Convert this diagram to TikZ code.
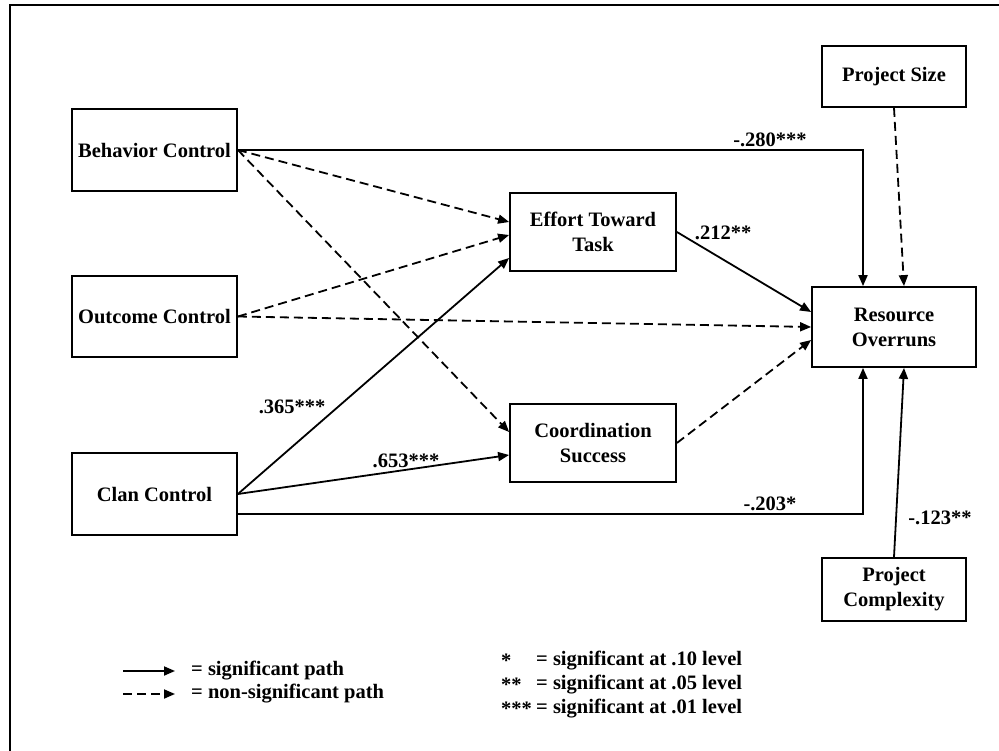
\documentclass[tikz,border=0pt]{standalone}
\usepackage{fontspec}
\setmainfont{Liberation Serif}
\usetikzlibrary{arrows.meta}
\begin{document}
\begin{tikzpicture}[x=1pt,y=-1pt,
  txt/.style={font=\bfseries\fontsize{20.5}{25}\selectfont},
  box/.style={txt, draw, line width=1.8pt, rectangle, align=center, inner sep=0pt},
  sig/.style={line width=1.8pt, -{Triangle[length=11pt,width=9pt]}},
  nsig/.style={sig, dash pattern=on 9pt off 5pt},
  lbl/.style={txt, inner sep=1pt}]
\useasboundingbox (0,0) rectangle (999,751);
\draw[line width=2pt] (9.5,751) -- (9.5,5) -- (999,5);

% boxes
\node[box, minimum width=165pt, minimum height=82pt] (BC) at (154.5,150) {Behavior Control};
\node[box, minimum width=165pt, minimum height=81pt] (OC) at (154.5,316.5) {Outcome Control};
\node[box, minimum width=165pt, minimum height=82pt] (CC) at (154.5,494) {Clan Control};
\node[box, minimum width=166pt, minimum height=78pt] (ET) at (593,232) {Effort Toward\\Task};
\node[box, minimum width=166pt, minimum height=78pt] (CS) at (593,443) {Coordination\\Success};
\node[box, minimum width=164pt, minimum height=80pt] (RO) at (894,327) {Resource\\Overruns};
\node[box, minimum width=144pt, minimum height=61pt] (PS) at (894,76.5) {Project Size};
\node[box, minimum width=144pt, minimum height=63pt] (PC) at (894,589.5) {Project\\Complexity};

% connectors
\draw[sig] (BC.east) -| ([xshift=-31pt]RO.north);
\draw[sig] ([yshift=-20pt]CC.east) -| ([xshift=-31pt]RO.south);
\draw[nsig] (BC.east) -- ([yshift=10pt]ET.west);
\draw[nsig] (BC.east) -- ([yshift=11pt]CS.west);
\draw[nsig] (OC.east) -- ([yshift=-3pt]ET.west);
\draw[nsig] (OC.east) -- (RO.west);
\draw[sig] (CC.east) -- ([yshift=-26pt]ET.west) node[lbl, pos=0.33, anchor=south east] (l365) {.365***};
\draw[sig] (CC.east) -- ([yshift=-12pt]CS.west) node[lbl, pos=0.62, anchor=south] (l653) {.653***};
\draw[sig] (ET.east) -- ([yshift=15pt]RO.west) node[lbl, pos=0.12, anchor=south west] (l212) {.212**};
\draw[nsig] (CS.east) -- ([yshift=-13pt]RO.west);
\draw[nsig] (PS.south) -- ([xshift=10pt]RO.north);
\draw[sig] (PC.north) -- ([xshift=10pt]RO.south);

\node[lbl, anchor=south] (l280) at (770,148) {-.280***};
\node[lbl, anchor=south] (l203) at (770,512) {-.203*};
\node[lbl] (l123) at (940,518) {-.123**};

% legend
\coordinate (a1) at (123,671); \coordinate (b1) at (175,671);
\coordinate (a2) at (123,694); \coordinate (b2) at (175,694);
\draw[sig] (a1) -- (b1);
\draw[nsig] (a2) -- (b2);
\node[lbl, anchor=west] (t1) at (190,671) {= significant path};
\node[lbl, anchor=west] (t2) at (190,694) {= non-significant path};
\node[lbl, anchor=west] (s1) at (500,661) {*};
\node[lbl, anchor=west] (s2) at (500,685) {**};
\node[lbl, anchor=west] (s3) at (500,709) {***};
\node[lbl, anchor=west] (u1) at (535,661) {= significant at .10 level};
\node[lbl, anchor=west] (u2) at (535,685) {= significant at .05 level};
\node[lbl, anchor=west] (u3) at (535,709) {= significant at .01 level};
\end{tikzpicture}
\end{document}
